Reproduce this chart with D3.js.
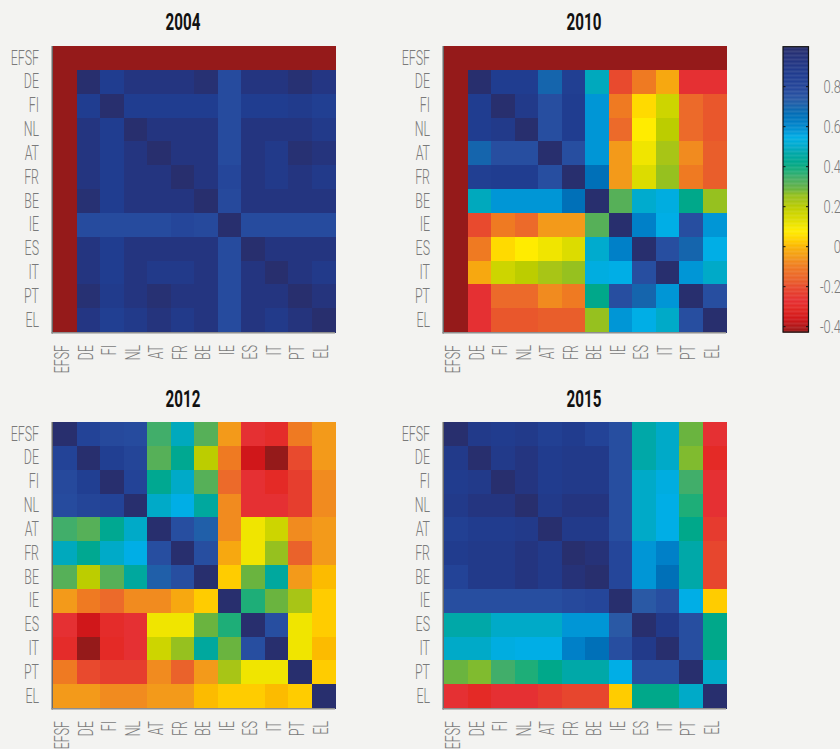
<!DOCTYPE html>
<html>
<head>
<meta charset="utf-8">
<script src="https://cdn.jsdelivr.net/npm/d3@7"></script>
<style>
  html, body { margin: 0; padding: 0; background: #f3f3f1; }
  svg { display: block; }
  text { font-family: Roboto, "Liberation Sans", "DejaVu Sans", sans-serif; }
</style>
</head>
<body>
<svg id="chart" width="840" height="749"></svg>
<script>
// Row/column order of every correlation matrix
const countries = ["EFSF", "DE", "FI", "NL", "AT", "FR", "BE", "IE", "ES", "IT", "PT", "EL"];
const years = ["2004", "2010", "2012", "2015"];

const corr2004 = [
  [-0.43, -0.43, -0.43, -0.43, -0.43, -0.43, -0.43, -0.43, -0.43, -0.43, -0.43, -0.43],
  [-0.43, 1.00, 0.86, 0.93, 0.93, 0.93, 0.98, 0.78, 0.93, 0.93, 0.98, 0.92],
  [-0.43, 0.86, 1.00, 0.86, 0.86, 0.86, 0.86, 0.78, 0.86, 0.86, 0.88, 0.85],
  [-0.43, 0.93, 0.86, 1.00, 0.93, 0.93, 0.93, 0.78, 0.93, 0.93, 0.93, 0.89],
  [-0.43, 0.93, 0.86, 0.93, 1.00, 0.93, 0.93, 0.78, 0.93, 0.89, 0.98, 0.94],
  [-0.43, 0.93, 0.86, 0.93, 0.93, 1.00, 0.93, 0.80, 0.93, 0.89, 0.93, 0.89],
  [-0.43, 0.98, 0.86, 0.93, 0.93, 0.93, 1.00, 0.79, 0.93, 0.93, 0.93, 0.93],
  [-0.43, 0.78, 0.78, 0.78, 0.78, 0.80, 0.79, 1.00, 0.78, 0.78, 0.78, 0.78],
  [-0.43, 0.93, 0.86, 0.93, 0.93, 0.93, 0.93, 0.78, 1.00, 0.93, 0.93, 0.93],
  [-0.43, 0.93, 0.86, 0.93, 0.89, 0.89, 0.93, 0.78, 0.93, 1.00, 0.93, 0.89],
  [-0.43, 0.98, 0.88, 0.93, 0.98, 0.93, 0.93, 0.78, 0.93, 0.93, 1.00, 0.94],
  [-0.43, 0.92, 0.85, 0.89, 0.94, 0.89, 0.93, 0.78, 0.93, 0.89, 0.94, 1.00]
];

const corr2010 = [
  [-0.43, -0.43, -0.43, -0.43, -0.43, -0.43, -0.43, -0.43, -0.43, -0.43, -0.43, -0.43],
  [-0.43, 1.00, 0.86, 0.86, 0.70, 0.85, 0.49, -0.20, -0.10, -0.02, -0.27, -0.27],
  [-0.43, 0.86, 1.00, 0.89, 0.77, 0.86, 0.58, -0.10, 0.05, 0.17, -0.14, -0.18],
  [-0.43, 0.86, 0.89, 1.00, 0.77, 0.86, 0.58, -0.14, 0.08, 0.20, -0.14, -0.18],
  [-0.43, 0.70, 0.77, 0.77, 1.00, 0.77, 0.58, -0.05, 0.11, 0.23, -0.07, -0.17],
  [-0.43, 0.85, 0.86, 0.86, 0.77, 1.00, 0.66, -0.05, 0.14, 0.26, -0.10, -0.17],
  [-0.43, 0.49, 0.58, 0.58, 0.58, 0.66, 1.00, 0.32, 0.51, 0.54, 0.42, 0.26],
  [-0.43, -0.20, -0.10, -0.14, -0.05, -0.05, 0.32, 1.00, 0.62, 0.55, 0.77, 0.58],
  [-0.43, -0.10, 0.05, 0.08, 0.11, 0.14, 0.51, 0.62, 1.00, 0.77, 0.70, 0.55],
  [-0.43, -0.02, 0.17, 0.20, 0.23, 0.26, 0.54, 0.55, 0.77, 1.00, 0.58, 0.50],
  [-0.43, -0.27, -0.14, -0.14, -0.07, -0.10, 0.42, 0.77, 0.70, 0.58, 1.00, 0.77],
  [-0.43, -0.27, -0.18, -0.18, -0.17, -0.17, 0.26, 0.58, 0.55, 0.50, 0.77, 1.00]
];

const corr2012 = [
  [1.00, 0.82, 0.79, 0.78, 0.35, 0.49, 0.32, -0.05, -0.27, -0.29, -0.10, -0.05],
  [0.82, 1.00, 0.85, 0.81, 0.32, 0.43, 0.20, -0.10, -0.36, -0.43, -0.20, -0.05],
  [0.79, 0.85, 1.00, 0.82, 0.43, 0.50, 0.32, -0.14, -0.27, -0.30, -0.23, -0.07],
  [0.78, 0.81, 0.82, 1.00, 0.50, 0.55, 0.45, -0.07, -0.27, -0.27, -0.23, -0.07],
  [0.35, 0.32, 0.43, 0.50, 1.00, 0.77, 0.72, -0.07, 0.11, 0.17, -0.07, -0.05],
  [0.49, 0.43, 0.50, 0.55, 0.77, 1.00, 0.77, -0.02, 0.11, 0.26, -0.16, -0.05],
  [0.32, 0.20, 0.32, 0.45, 0.72, 0.77, 1.00, 0.03, 0.29, 0.45, -0.05, 0.01],
  [-0.05, -0.10, -0.14, -0.07, -0.07, -0.02, 0.03, 1.00, 0.38, 0.29, 0.23, 0.03],
  [-0.27, -0.36, -0.29, -0.27, 0.11, 0.11, 0.29, 0.38, 1.00, 0.77, 0.11, 0.03],
  [-0.29, -0.43, -0.30, -0.27, 0.17, 0.26, 0.45, 0.29, 0.77, 1.00, 0.11, 0.01],
  [-0.10, -0.20, -0.23, -0.23, -0.07, -0.16, -0.05, 0.23, 0.11, 0.11, 1.00, 0.03],
  [-0.05, -0.05, -0.07, -0.07, -0.05, -0.05, 0.01, 0.03, 0.03, 0.01, 0.03, 1.00]
];

const corr2015 = [
  [1.00, 0.89, 0.87, 0.89, 0.84, 0.87, 0.82, 0.77, 0.47, 0.50, 0.29, -0.27],
  [0.89, 1.00, 0.89, 0.93, 0.87, 0.89, 0.89, 0.77, 0.47, 0.50, 0.275, -0.30],
  [0.87, 0.89, 1.00, 0.93, 0.87, 0.89, 0.89, 0.77, 0.50, 0.54, 0.35, -0.27],
  [0.89, 0.93, 0.93, 1.00, 0.89, 0.93, 0.93, 0.77, 0.50, 0.55, 0.38, -0.27],
  [0.84, 0.87, 0.87, 0.89, 1.00, 0.89, 0.89, 0.77, 0.50, 0.55, 0.42, -0.24],
  [0.87, 0.89, 0.89, 0.93, 0.89, 1.00, 0.96, 0.80, 0.58, 0.62, 0.47, -0.21],
  [0.82, 0.89, 0.89, 0.93, 0.89, 0.96, 1.00, 0.80, 0.58, 0.66, 0.47, -0.21],
  [0.77, 0.77, 0.77, 0.77, 0.77, 0.79, 0.80, 1.00, 0.74, 0.77, 0.55, 0.03],
  [0.47, 0.47, 0.50, 0.50, 0.50, 0.58, 0.58, 0.74, 1.00, 0.89, 0.77, 0.42],
  [0.50, 0.50, 0.54, 0.55, 0.55, 0.62, 0.66, 0.77, 0.89, 1.00, 0.77, 0.42],
  [0.29, 0.275, 0.35, 0.38, 0.42, 0.47, 0.47, 0.55, 0.77, 0.77, 1.00, 0.50],
  [-0.27, -0.30, -0.27, -0.27, -0.24, -0.21, -0.21, 0.03, 0.42, 0.42, 0.50, 1.00]
];

// Colour bar range and tick labels
const colorbarTicks = [-0.4, -0.2, 0, 0.2, 0.4, 0.6, 0.8];
const colorbarTickLabels = ["-0.4", "-0.2", "0", "0.2", "0.4", "0.6", "0.8"];
const colorbarExtent = [-0.427, 1.0];

// Colour map: value stops and their colours (red → orange → yellow → green → cyan → blue → navy)
const cmapValues = [-0.43, -0.36, -0.30, -0.27, -0.23, -0.20, -0.17, -0.14, -0.10, -0.07, -0.05, -0.02,
  0.01, 0.03, 0.05, 0.08, 0.11, 0.14, 0.17, 0.20, 0.23, 0.26, 0.29, 0.32, 0.35, 0.38, 0.42, 0.45,
  0.47, 0.50, 0.55, 0.58, 0.62, 0.66, 0.70, 0.74, 0.77, 0.80, 0.86, 0.89, 0.93, 1.00];
const cmapColors = ["#951a1a", "#d0171a", "#e42a26", "#e53033", "#e63e2e", "#e84a2e", "#e95e2b", "#ec6a2a",
  "#ef7a22", "#f18b1f", "#f39a1a", "#f7a810", "#fcbb00", "#ffcc00", "#ffda00", "#ffec00", "#f0e500",
  "#dcdc00", "#cdd500", "#bccd00", "#a8c516", "#96c11f", "#6ab43f", "#56b058", "#41ae6a", "#1eae78",
  "#00a88a", "#00a89e", "#00a8a8", "#00aac8", "#00aee6", "#0096d6", "#0080c8", "#0070b8", "#1565ad",
  "#2a59a5", "#274ea0", "#25469a", "#203d90", "#223a8a", "#243580", "#282f6e"];

const matrices = [corr2004, corr2010, corr2012, corr2015];

const color = d3.scaleLinear()
  .domain(cmapValues)
  .range(cmapColors)
  .interpolate(d3.interpolateRgb)
  .clamp(true);

const svg = d3.select("#chart");
const labelFont = 20, labelSquash = 0.62, labelColor = "#7a7a7a";

// Panel frames (heatmap area and title anchor)
const panels = [
  { x0: 53,  x1: 335, y0: 46,  y1: 332, titleX: 183, titleY: 30 },
  { x0: 444, x1: 726, y0: 46,  y1: 332, titleX: 584, titleY: 30 },
  { x0: 53,  x1: 335, y0: 422, y1: 708, titleX: 183, titleY: 406.5 },
  { x0: 444, x1: 726, y0: 422, y1: 708, titleX: 584, titleY: 406.5 }
];

panels.forEach((p, k) => {
  const m = matrices[k];
  const x = d3.scaleBand().domain(countries).range([p.x0, p.x1]).padding(0);
  const y = d3.scaleBand().domain(countries).range([p.y0, p.y1]).padding(0);
  const g = svg.append("g");

  const cells = [];
  m.forEach((row, i) => row.forEach((v, j) => cells.push({ r: countries[i], c: countries[j], v })));

  g.selectAll("rect.cell").data(cells).join("rect")
    .attr("class", "cell")
    .attr("x", d => x(d.c))
    .attr("y", d => y(d.r))
    .attr("width", x.bandwidth() + 0.5)
    .attr("height", y.bandwidth() + 0.5)
    .attr("fill", d => color(d.v))
    .attr("shape-rendering", "crispEdges");

  // axis lines
  g.append("line")
    .attr("x1", p.x0 - 0.75).attr("x2", p.x0 - 0.75)
    .attr("y1", p.y0).attr("y2", p.y1 + 1.5)
    .attr("stroke", "#6a6a6a").attr("stroke-width", 1.5);
  g.append("line")
    .attr("x1", p.x0 - 1.5).attr("x2", p.x1)
    .attr("y1", p.y1 + 0.75).attr("y2", p.y1 + 0.75)
    .attr("stroke", "#8e8e8e").attr("stroke-width", 1.5);

  // row labels
  g.selectAll("text.ylab").data(countries).join("text")
    .attr("class", "ylab")
    .attr("transform", d => `translate(${p.x0 - 14},${y(d) + y.bandwidth() / 2}) scale(${labelSquash},1)`)
    .attr("text-anchor", "end")
    .attr("dominant-baseline", "central")
    .attr("font-size", labelFont)
    .attr("font-weight", 300)
    .attr("fill", labelColor)
    .text(d => d);

  // column labels (rotated)
  g.selectAll("text.xlab").data(countries).join("text")
    .attr("class", "xlab")
    .attr("transform", d => `translate(${x(d) + x.bandwidth() / 2 - 2},${p.y1 + 13}) rotate(-90) scale(${labelSquash},1)`)
    .attr("text-anchor", "end")
    .attr("dominant-baseline", "central")
    .attr("font-size", labelFont)
    .attr("font-weight", 300)
    .attr("fill", labelColor)
    .text(d => d);

  // title
  svg.append("text")
    .attr("transform", `translate(${p.titleX},${p.titleY}) scale(0.66,1)`)
    .attr("text-anchor", "middle")
    .attr("font-size", 23)
    .attr("font-weight", 700)
    .attr("fill", "#111")
    .text(years[k]);
});

// Colour bar
const cb = { x0: 783, x1: 808.5 };
const cbY = d3.scaleLinear().domain([-0.4, 0.8]).range([326.7, 86.7]);
const cbSteps = d3.range(colorbarExtent[0], colorbarExtent[1], 0.004);
const cbG = svg.append("g");
cbG.selectAll("rect.cb").data(cbSteps).join("rect")
  .attr("class", "cb")
  .attr("x", cb.x0)
  .attr("width", cb.x1 - cb.x0)
  .attr("y", d => cbY(Math.min(d + 0.004, colorbarExtent[1])))
  .attr("height", d => cbY(d) - cbY(Math.min(d + 0.004, colorbarExtent[1])) + 0.4)
  .attr("fill", d => color(d + 0.002));

cbG.append("rect")
  .attr("x", cb.x0).attr("y", cbY(colorbarExtent[1]))
  .attr("width", cb.x1 - cb.x0)
  .attr("height", cbY(colorbarExtent[0]) - cbY(colorbarExtent[1]))
  .attr("fill", "none").attr("stroke", "#111").attr("stroke-width", 1.2);

colorbarTicks.forEach((t, i) => {
  const yy = cbY(t);
  cbG.append("line").attr("x1", cb.x0).attr("x2", cb.x0 + 2.5).attr("y1", yy).attr("y2", yy)
    .attr("stroke", "#111").attr("stroke-width", 1);
  cbG.append("line").attr("x1", cb.x1 - 2.5).attr("x2", cb.x1).attr("y1", yy).attr("y2", yy)
    .attr("stroke", "#111").attr("stroke-width", 1);
  cbG.append("text")
    .attr("transform", `translate(841,${yy}) scale(0.68,1)`)
    .attr("text-anchor", "end")
    .attr("dominant-baseline", "central")
    .attr("font-size", 19)
    .attr("font-weight", 300)
    .attr("fill", labelColor)
    .text(colorbarTickLabels[i]);
});
</script>
</body>
</html>
